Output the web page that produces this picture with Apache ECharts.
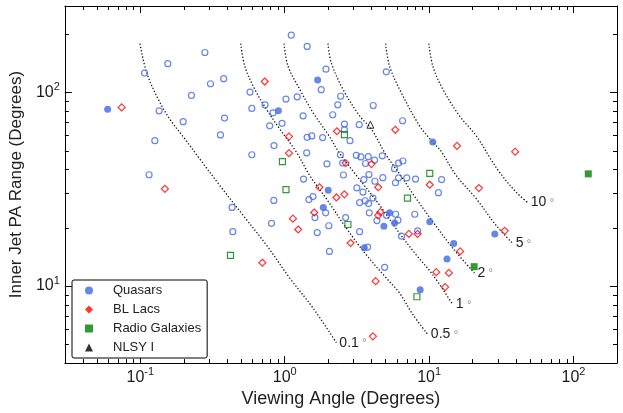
<!DOCTYPE html>
<html>
<head>
<meta charset="utf-8">
<script src="https://cdn.jsdelivr.net/npm/echarts@6/dist/echarts.min.js"></script>
<style>
  html, body { margin: 0; padding: 0; background: #fff; }
  #chart { width: 623px; height: 413px; }
</style>
</head>
<body>
<div id="chart"></div>
<script>
// ---- data (viewing angle [deg], inner jet PA range [deg]) ----
const quasarsOpen = [
  [0.107,126],[0.155,141],[0.280,161],[0.306,111],[0.378,118],[0.226,96.6],[0.135,80.5],
  [0.198,70.7],[0.383,73.8],[0.359,60.4],[0.126,56.4],[0.115,37.6],[0.575,100.5],[0.592,82.8],
  [0.592,47.7],[0.432,25.5],[0.437,19.1],[1.11,198],[1.43,173],[1.93,132],[1.79,103.5],
  [5.05,128],[2.44,95.7],[1.22,95],[1.02,92.5],[2.33,86.4],[4.10,85.7],[0.731,86.4],
  [0.830,78.6],[1.34,75.8],[2.15,76.8],[0.787,67.3],[0.958,69.3],[2.59,68.7],[3.28,68.2],
  [6.55,71.5],[1.43,58.7],[1.54,59.7],[1.83,58.5],[2.83,56.4],[0.843,53.2],[1.42,48.8],
  [2.43,47.7],[1.96,42.8],[2.52,43.2],[3.13,47.4],[3.37,46.5],[3.79,46.6],[3.63,43.0],
  [4.19,44.8],[4.74,47.1],[6.14,43.2],[6.58,44.3],[5.76,40.4],[2.55,37.5],[3.83,37.7],
  [3.53,35.5],[4.21,34.8],[4.78,36.3],[5.85,34.2],[6.14,36.2],[7.0,36.2],[8.05,35.7],
  [12.2,35.5],[11.6,30.4],[1.35,35.7],[1.57,29.0],[3.16,32.2],[3.48,30.6],[2.59,64.3],
  [4.08,28.5],[1.47,28.0],[0.84,27.7],[1.92,23.9],[1.62,22.6],[0.81,21.1],[2.02,20.5],
  [1.68,18.9],[2.64,22.6],[2.04,15.1],[3.30,27.0],[3.61,27.6],[3.81,26.7],[3.85,23.9],
  [5.07,23.2],[5.86,23.5],[6.08,21.9],[4.35,21.8],[3.30,19.1],[3.75,15.9],[6.44,18.1],
  [8.32,19.3],[7.96,23.5],[4.92,12.5]
];
const quasarsFilled = [
  [0.0594,82],[1.69,116],[0.904,80.5],[10.6,55.6],[2.00,31.3],[1.85,25.5],[5.32,23.9],
  [5.77,21.2],[4.86,20.4],[3.56,15.8],[10.1,21.5],[8.67,9.58],[13.3,13.8],[28.5,18.6],[14.8,16.6]
];
const blLacs = [
  [0.0743,83.8],[0.148,31.8],[0.727,114],[5.83,64.2],[1.07,59.2],[2.30,63.1],[1.07,48.6],
  [2.64,43.2],[3.99,42.7],[10.1,33.4],[1.74,32.4],[2.59,29.8],[2.28,28.7],[4.44,32.4],
  [1.60,24.0],[1.14,22.3],[1.24,19.6],[2.86,16.7],[0.70,13.2],[4.59,24.1],[4.44,23.2],
  [7.24,18.6],[8.32,18.6],[4.26,10.6],[4.08,5.50],[11.2,11.8],[12.9,9.88],[22.1,32.1],
  [33.4,19.3],[16.4,15.1],[13.7,11.7],[15.6,53.0],[39.4,49.5]
];
const radioGalaxiesOpen = [
  [0.421,14.4],[0.964,44.0],[2.59,60.6],[1.02,31.5],[2.74,20.8],[7.08,28.5],[10.1,38.2],[8.23,8.81]
];
const radioGalaxiesFilled = [[20.5,12.6],[126.5,38.0]];
const nlsy1 = [[3.92,68.2]];

// model curves
const curve01 = [[0.0994,179],[0.1106,126.8],[0.133,92.5],[0.160,72.9],[0.2034,57.6],[0.258,45.4],
  [0.355,33.1],[0.515,23.2],[0.747,16.3],[1.083,11.0],[1.569,7.71],[2.278,5.10]];
const curve05 = [[0.496,179],[0.529,136.9],[0.620,104.0],[0.747,82.0],[0.924,64.8],[1.205,49.2],
  [1.489,37.3],[1.942,28.3],[2.672,19.9],[3.673,14.5],[5.05,11.0],[6.24,9.20],[7.72,7.12],[9.80,5.62]];
const curve1 = [[0.989,179],[1.054,136.9],[1.270,104.0],[1.569,78.9],[2.025,59.8],[2.363,49.4],
  [3.133,37.3],[4.54,26.2],[6.24,18.7],[8.14,14.5],[10.61,11.43],[14.58,8.02]];
const curve2 = [[1.992,179],[2.10,142.6],[2.531,104.0],[3.30,75.8],[3.978,64.8],[5.05,47.4],
  [6.24,38.0],[8.14,28.3],[10.61,21.5],[14.58,15.7],[20.6,11.66]];
const curve5 = [[4.995,179],[5.32,136.9],[6.41,100],[8.58,67.4],[10.61,55.4],[12.18,49.4],
  [15.40,37.3],[21.17,28.3],[29.1,20.6],[37.9,16.6]];
const curve10 = [[9.95,179],[10.61,136.9],[12.44,104.0],[16.23,75.8],[21.17,59.8],[26.2,46.4],
  [30.7,38.8],[40.0,30.6],[48.2,27.0]];
const curveNames = ['0.1', '0.5', '1', '2', '5', '10'];
const curveData = [curve01, curve05, curve1, curve2, curve5, curve10];

// axis ticks
const xRange = [0.03, 200];
const yRange = [4, 280];
const xMajorTicks = [0.1, 1, 10, 100];
const xMinorTicks = [0.04,0.05,0.06,0.07,0.08,0.09, 0.2,0.3,0.4,0.5,0.6,0.7,0.8,0.9,
  2,3,4,5,6,7,8,9, 20,30,40,50,60,70,80,90];
const yMajorTicks = [10, 100];
const yMinorTicks = [5,6,7,8,9, 20,30,40,50,60,70,80,90, 200];

const blue = '#4169E1', red = '#FF0000', green = '#008000';
const font = 'Liberation Sans';

const chart = echarts.init(document.getElementById('chart'));

function powLabel(v) {
  const e = Math.log10(v);
  const r = Math.round(e);
  if (Math.abs(e - r) > 1e-6) return '';
  return '{b|10}{s|' + r + '}';
}
const powRich = {
  b: { fontSize: 16, fontFamily: font, color: '#1a1a1a', lineHeight: 22 },
  s: { fontSize: 11, fontFamily: font, color: '#1a1a1a', verticalAlign: 'top', lineHeight: 11 }
};

// extra value axes (in log10 space) only to draw mirrored major/minor ticks
function tickAxis(position, values, len, range, showLine) {
  return {
    type: 'value', position: position,
    min: Math.log10(range[0]), max: Math.log10(range[1]),
    axisLine: { show: !!showLine, onZero: false, lineStyle: { color: '#000', width: 1 } },
    axisLabel: { show: false }, splitLine: { show: false },
    axisTick: { show: true, inside: true, length: len, customValues: values.map(Math.log10),
      lineStyle: { color: '#000', width: 1 } }
  };
}

const curveSeries = curveData.map((d, i) => ({
  type: 'line', data: d, smooth: 0.35, showSymbol: false, silent: true, z: 1,
  lineStyle: { color: '#111', width: 1.3, type: [1.3, 2] },
  endLabel: {
    show: true, distance: 3,
    formatter: '{n|' + curveNames[i] + '} {d|°}',
    rich: {
      n: { fontSize: 14, fontFamily: font, color: '#222' },
      d: { fontSize: 11, fontFamily: font, color: '#888' }
    }
  }
}));

const option = {
  animation: false,
  textStyle: { fontFamily: font },
  grid: { left: 64, right: 6, top: 6, bottom: 47 },
  legend: {
    orient: 'vertical', left: 72, top: 280,
    itemWidth: 8, itemHeight: 8, itemGap: 6,
    padding: [4, 6, 4, 13],
    borderColor: '#000', borderWidth: 1, borderRadius: 2, backgroundColor: '#fff',
    textStyle: { fontSize: 13, fontFamily: font, color: '#222', lineHeight: 13, padding: [0, 0, 0, 15] },
    data: [
      { name: 'Quasars', icon: 'circle', itemStyle: { color: blue, borderWidth: 0 } },
      { name: 'BL Lacs', icon: 'diamond', itemStyle: { color: red, borderWidth: 0 } },
      { name: 'Radio Galaxies', icon: 'rect', itemStyle: { color: green, borderWidth: 0 } },
      { name: 'NLSY I', icon: 'triangle', itemStyle: { color: '#000', borderWidth: 0 } }
    ]
  },
  xAxis: [
    {
      type: 'log', logBase: 10, min: xRange[0], max: xRange[1], position: 'bottom',
      axisLine: { show: true, onZero: false, lineStyle: { color: '#000', width: 1 } },
      axisTick: { show: false }, minorTick: { show: false }, splitLine: { show: false },
      axisLabel: { formatter: powLabel, rich: powRich, margin: 3 },
      name: 'Viewing Angle (Degrees)', nameLocation: 'middle', nameGap: 25,
      nameTextStyle: { fontSize: 18, fontFamily: font, color: '#222' }
    },
    tickAxis('bottom', xMajorTicks, 7, xRange),
    tickAxis('bottom', xMinorTicks, 4, xRange),
    tickAxis('top', xMajorTicks, 7, xRange, true),
    tickAxis('top', xMinorTicks, 4, xRange)
  ],
  yAxis: [
    {
      type: 'log', logBase: 10, min: yRange[0], max: yRange[1], position: 'left',
      axisLine: { show: true, onZero: false, lineStyle: { color: '#000', width: 1 } },
      axisTick: { show: false }, minorTick: { show: false }, splitLine: { show: false },
      axisLabel: { formatter: powLabel, rich: powRich, margin: 5 },
      name: 'Inner Jet PA Range (Degrees)', nameLocation: 'middle', nameGap: 33,
      nameTextStyle: { fontSize: 17, fontFamily: font, color: '#222' }
    },
    tickAxis('left', yMajorTicks, 7, yRange),
    tickAxis('left', yMinorTicks, 4, yRange),
    tickAxis('right', yMajorTicks, 7, yRange, true),
    tickAxis('right', yMinorTicks, 4, yRange)
  ],
  series: [
    ...curveSeries,
    { name: 'Quasars', type: 'scatter', data: quasarsFilled, symbol: 'circle', symbolSize: 7,
      itemStyle: { color: blue }, z: 3 },
    { name: 'Quasars', type: 'scatter', data: quasarsOpen, symbol: 'circle', symbolSize: 6,
      itemStyle: { color: 'rgba(255,255,255,0)', borderColor: blue, borderWidth: 1.2 }, z: 3 },
    { name: 'BL Lacs', type: 'scatter', data: blLacs, symbol: 'diamond', symbolSize: 7,
      itemStyle: { color: 'rgba(255,255,255,0)', borderColor: red, borderWidth: 1.2 }, z: 3 },
    { name: 'Radio Galaxies', type: 'scatter', data: radioGalaxiesOpen, symbol: 'rect', symbolSize: 6,
      itemStyle: { color: 'rgba(255,255,255,0)', borderColor: green, borderWidth: 1.2 }, z: 3 },
    { name: 'Radio Galaxies', type: 'scatter', data: radioGalaxiesFilled, symbol: 'rect', symbolSize: 7,
      itemStyle: { color: green }, z: 3 },
    { name: 'NLSY I', type: 'scatter', data: nlsy1, symbol: 'triangle', symbolSize: 7,
      itemStyle: { color: 'rgba(255,255,255,0)', borderColor: '#000', borderWidth: 1 }, z: 3 }
  ]
};

chart.setOption(option);
</script>
</body>
</html>
